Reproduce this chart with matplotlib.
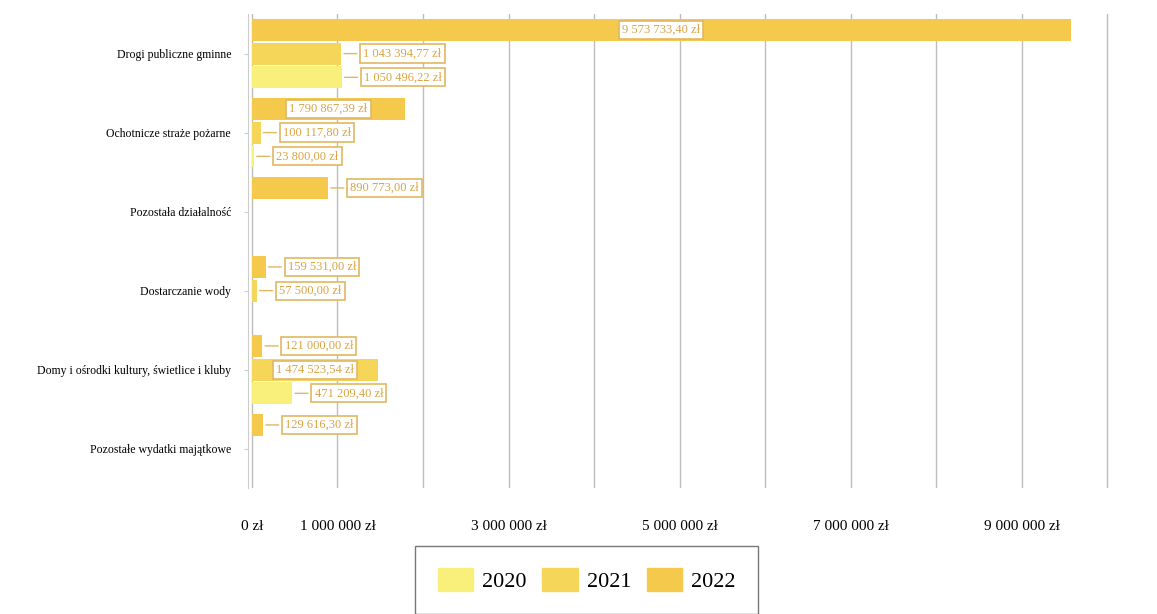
# wydatki majatkowe - wykres slupkowy 2020-2022
import matplotlib.pyplot as plt
import numpy as np

plt.rcParams['font.family'] = ['Liberation Serif', 'DejaVu Serif']

# dane
categories = ["Drogi publiczne gminne", "Ochotnicze straże pożarne", "Pozostała działalność",
              "Dostarczanie wody", "Domy i ośrodki kultury, świetlice i kluby",
              "Pozostałe wydatki majątkowe"]
years = ["2020", "2021", "2022"]
v2020 = [1050496.22, 23800.00, 0, 0, 471209.40, 0]
v2021 = [1043394.77, 100117.80, 0, 57500.00, 1474523.54, 0]
v2022 = [9573733.40, 1790867.39, 890773.00, 159531.00, 121000.00, 129616.30]
colors = ["#f9f07c", "#f6d659", "#f5c94c"]
tick_vals = [0, 1e6, 2e6, 3e6, 4e6, 5e6, 6e6, 7e6, 8e6, 9e6, 10e6]
tick_labels = ["0 zł", "1 000 000 zł", "", "3 000 000 zł", "", "5 000 000 zł", "",
               "7 000 000 zł", "", "9 000 000 zł", ""]


def fmt(v):
    s = f"{v:,.2f}".replace(",", " ").replace(".", ",")
    return s + " zł"


fig = plt.figure(figsize=(11.57, 6.14), dpi=100)
ax = fig.add_axes([0.2141, 0.205, 0.776, 0.772])

y = np.arange(len(categories))[::-1]
h = 0.28
offs = [-0.3, 0.0, 0.3]
series = [v2020, v2021, v2022]

for i, vals in enumerate(series):
    ax.barh(y + offs[i], vals, height=h, color=colors[i], zorder=2,
            hatch='....' if i == 1 else None, edgecolor=colors[i], linewidth=0)
    for yy, v in zip(y + offs[i], vals):
        if v <= 0:
            continue
        box = dict(boxstyle='square,pad=0.25', fc='white', ec='#e0b860', lw=1.2)
        if v > 1.2e6:
            ax.text(v / 2, yy, fmt(v), ha='center', va='center', fontsize=9,
                    color='#d9a441', bbox=box, zorder=4)
        else:
            ax.annotate(fmt(v), xy=(v, yy), xytext=(16, 0), textcoords='offset points',
                        ha='left', va='center', fontsize=9, color='#d9a441', bbox=box,
                        arrowprops=dict(arrowstyle='-', color='#e0b860', lw=1), zorder=4)

ax.set_xlim(-0.05e6, 10.45e6)
ax.set_ylim(-0.5, len(categories) - 0.5)
ax.set_yticks(y)
ax.set_yticklabels(categories, fontsize=8.5)
ax.set_xticks(tick_vals)
ax.set_xticklabels(tick_labels, fontsize=11)
ax.tick_params(axis='x', length=0, pad=23)
ax.tick_params(axis='y', length=3, color='#cccccc', pad=9)
ax.grid(axis='x', color='#bdbdbd', lw=1, zorder=0)
for s in ['top', 'right', 'bottom']:
    ax.spines[s].set_visible(False)
ax.spines['left'].set_color('#cccccc')

handles = [plt.Rectangle((0, 0), 1, 1, color=c, hatch='....' if i == 1 else None)
           for i, c in enumerate(colors)]
leg = fig.legend(handles, years, loc='center', bbox_to_anchor=(0.507, 0.055), ncol=3,
                 fontsize=16, frameon=True, fancybox=False, edgecolor='#555555',
                 handlelength=1.6, handleheight=1.2, columnspacing=0.7, borderpad=1.0,
                 handletextpad=0.4)

plt.savefig('out.png', dpi=100)
